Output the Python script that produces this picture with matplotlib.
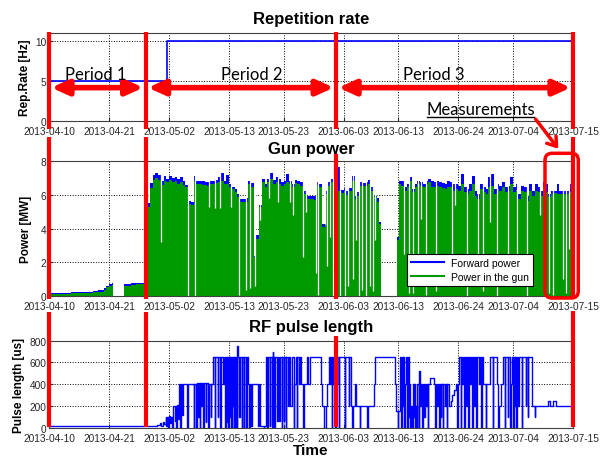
import numpy as np
import matplotlib
matplotlib.use('Agg')
import matplotlib.pyplot as plt
import matplotlib.dates as mdates
from matplotlib.lines import Line2D
from matplotlib.patches import FancyBboxPatch, FancyArrowPatch
from matplotlib.transforms import blended_transform_factory

plt.rcParams['font.family'] = ['Liberation Sans', 'DejaVu Sans']

# all times are day offsets from start_date
start_date = '2013-04-10'
end_day = 96
tick_dates = ['2013-04-10', '2013-04-21', '2013-05-02', '2013-05-13', '2013-05-23',
              '2013-06-03', '2013-06-13', '2013-06-24', '2013-07-04', '2013-07-15']

# Repetition rate
rate_days = [0, 21.7, 96]
rate_hz = [5, 10, 10]

# Gun power (step values)
pw_days = [0, 2, 4, 6, 8, 9, 10, 10.5, 11, 11.5,
           11.8, 13.8, 15, 16, 17, 17.5, 17.75,
           18, 18.5, 19, 19.5, 20, 20.5, 21, 21.5, 22, 22.5,
           23, 23.5, 24, 24.5, 25, 25.5, 26, 26.5, 27, 27.5,
           28, 28.5, 29, 29.5, 30, 30.5, 31, 31.5, 32, 32.5,
           33, 33.5, 34, 34.5, 35, 35.5, 36, 36.5, 37, 37.5,
           38, 38.5, 39, 39.5, 40, 40.5, 41, 41.5, 42, 42.5,
           43, 43.5, 44, 44.5, 45, 45.5, 46, 46.5, 47, 47.5,
           48, 48.5, 49, 49.5, 50, 50.5, 51, 51.5, 52, 52.5,
           53, 53.5, 54, 54.5, 55, 55.5, 56, 56.5, 57, 57.5,
           58, 58.5, 59, 59.5, 60, 60.5,
           60.9, 63.7, 64.2, 64.5, 65, 65.5, 66, 66.5, 67, 67.5,
           68, 68.5, 69, 69.5, 70, 70.5, 71, 71.5, 72, 72.5,
           73, 73.5, 74, 74.5, 75, 75.5, 76, 76.5, 77, 77.5,
           78, 78.5, 79, 79.5, 80, 80.5, 81, 81.5, 82, 82.5,
           83, 83.5, 84, 84.5, 85, 85.5, 86, 86.5, 87, 87.5,
           88, 88.5, 89, 89.5, 90, 90.5, 91, 91.5, 92, 92.5,
           93, 93.5, 94, 94.5, 95, 95.5, 96]
fwd_mw = [0.20, 0.20, 0.23, 0.27, 0.30, 0.35, 0.47, 0.63, 0.72, 0.77,
          0, 0.72, 0.76, 0.80, 0.81, 0.82, 4.5,
          5.5, 6.7, 7.2, 7.3, 7.2, 6.8, 7.1, 6.95, 7.1, 7.0,
          7.07, 6.93, 7.03, 6.84, 6.6, 5.66, 5.57, 7.13, 6.84, 6.8,
          6.8, 6.74, 6.74, 6.84, 6.84, 6.88, 7.03, 7.29, 6.84, 7.2,
          6.64, 6.45, 6.35, 6.05, 5.76, 5.76, 5.8, 6.84, 6.7, 2.4,
          3.6, 5.4, 6.93, 6.64, 6.93, 7.29, 6.88, 7.03, 6.93, 6.74,
          6.84, 7.23, 6.84, 6.64, 6.88, 6.84, 6.74, 6.25, 5.96, 5.96,
          5.96, 5.96, 6.74, 6.64, 4.3, 6.25, 6.74, 6.93, 6.64, 4.79,
          7.65, 6.3, 6.4, 6.2, 6.4, 7.13, 5.96, 6.15, 6.74, 6.68,
          6.74, 6.88, 6.45, 5.96, 5.8, 4.4,
          0, 3.5, 6.84, 6.84, 6.45, 6.64, 7.03, 6.35, 6.64, 6.84,
          6.74, 6.64, 6.84, 6.93, 6.8, 6.74, 6.84, 6.74, 6.68, 6.64,
          6.8, 6.74, 6.64, 6.64, 6.54, 7.23, 6.45, 6.35, 6.64, 7.13,
          6.25, 6.05, 6.64, 6.45, 6.35, 7.03, 7.23, 6.35, 6.64, 6.54,
          6.74, 6.45, 6.54, 7.03, 6.45, 6.64, 6.05, 6.54, 6.45, 5.96,
          6.64, 6.25, 6.64, 6.45, 6.25, 6.74, 6.64, 6.05, 6.25, 6.25,
          6.64, 6.25, 6.25, 6.25, 6.25, 6.64, 6.64]
gun_mw = [0.14, 0.14, 0.17, 0.21, 0.24, 0.27, 0.37, 0.53, 0.60, 0.68,
          0, 0.63, 0.67, 0.72, 0.74, 0.76, 4.3,
          5.3, 6.4, 6.9, 7.0, 6.9, 6.6, 6.84, 6.74, 6.88, 6.74,
          6.84, 6.64, 6.74, 6.6, 6.45, 5.47, 5.37, 6.84, 6.64, 6.64,
          6.6, 6.6, 6.54, 6.64, 6.64, 6.68, 6.74, 6.84, 6.64, 6.64,
          6.45, 6.35, 6.15, 5.86, 5.57, 5.57, 5.6, 6.64, 6.45, 2.3,
          3.4, 5.27, 6.74, 6.45, 6.74, 6.93, 6.64, 6.74, 6.64, 6.54,
          6.64, 6.74, 6.64, 6.45, 6.68, 6.64, 6.54, 6.05, 5.76, 5.76,
          5.76, 5.7, 6.6, 6.45, 4.1, 6.05, 6.54, 6.74, 6.45, 4.59,
          6.25, 6.1, 6.2, 6.0, 6.2, 6.84, 5.76, 5.96, 6.54, 6.54,
          6.54, 6.64, 6.25, 5.86, 5.6, 4.3,
          0, 3.3, 6.64, 6.54, 6.25, 6.45, 6.84, 6.15, 6.45, 6.64,
          6.54, 6.45, 6.64, 6.74, 6.45, 6.45, 6.54, 6.45, 6.41, 6.35,
          6.48, 6.45, 6.25, 6.35, 6.25, 6.64, 6.15, 6.05, 6.25, 6.64,
          5.96, 5.76, 6.35, 6.15, 6.05, 6.45, 6.54, 6.05, 6.35, 6.25,
          6.45, 6.15, 6.25, 6.64, 6.15, 6.29, 5.76, 6.25, 6.15, 5.66,
          6.25, 5.96, 6.25, 6.15, 5.96, 6.54, 6.15, 5.86, 6.05, 6.09,
          6.05, 6.05, 6.02, 6.02, 6.05, 6.15, 6.15]

# short drops of the gun power (white lines)
dip_days = [20.5, 25.5, 26.7, 29.4, 30.4, 31.3, 33.3, 34.8, 36.1, 36.8,
            37.7, 38.7, 40.3, 41.9, 44.1, 44.7, 46.6, 47.0, 49.0, 49.3,
            50.5, 51.0, 51.5, 52.1, 53.3, 54.2, 54.7, 55.7, 56.2, 56.8,
            57.4, 58.1, 58.8, 59.4, 59.8, 65.0, 65.9, 66.7, 67.6, 68.2,
            69.1, 70.9, 73.8, 74.3, 76.5, 78.6, 79.5, 80.8, 82.0, 84.0,
            85.7, 87.5, 90.0, 91.6, 92.4, 94.2, 94.8, 95.3]
dip_mw = [3.2, 0.0, 0.0, 5.3, 5.2, 5.2, 5.3, 0.1, 0.4, 0.5,
          0.6, 4.5, 5.8, 5.6, 5.6, 4.8, 2.3, 5.0, 1.4, 0.1,
          4.3, 1.8, 3.5, 0.0, 0.0, 0.0, 0.6, 1.0, 3.3, 0.0,
          0.4, 0.0, 0.6, 0.3, 3.3, 2.5, 0.2, 0.2, 0.6, 4.6,
          0.1, 0.3, 1.1, 5.4, 0.0, 1.7, 0.3, 4.4, 0.0, 0.9,
          0.9, 0.0, 4.8, 0.2, 0.1, 1.0, 0.2, 2.8]

# RF pulse length (step values)
rf_days = [0, 19.8, 20.3, 20.6, 20.9, 21.1, 21.4, 21.5, 21.7, 21.8,
           22.0, 22.2, 22.4, 22.6, 22.8, 23.0, 23.2, 23.35, 23.5, 23.7,
           23.9, 24.0, 24.2, 24.4, 24.5, 25.3, 25.4, 26.5, 26.6, 27.0,
           27.1, 27.3, 27.4, 27.6, 27.7, 27.9, 28.0, 28.3, 28.4, 28.7,
           28.8, 29.2, 29.3, 29.6, 29.7, 30.0, 30.4, 30.5, 30.9, 31.0,
           31.4, 31.5, 31.9, 32.0, 32.3, 32.4, 32.6, 32.7, 32.85, 32.95,
           33.1, 33.2, 33.35, 33.45, 33.6, 33.7, 33.85, 33.95, 34.1, 34.2,
           34.4, 34.5, 34.6, 34.9, 35.0, 35.3, 35.4, 35.7, 35.8, 36.1,
           36.2, 36.5, 36.7, 36.8, 37.0, 37.2, 38.2, 38.5, 38.7, 39.3,
           39.4, 39.7, 40.0, 40.1, 40.4, 40.5, 40.9, 41.0, 41.1, 41.3,
           41.4, 41.7, 42.0, 42.2, 42.4, 42.6, 42.7, 43.0, 43.1, 43.4,
           43.5, 43.8, 44.0, 44.1, 44.6, 44.8, 44.9, 45.2, 45.4, 45.5,
           45.8, 46.0, 46.2, 46.6, 46.7, 47.2, 47.4, 47.8, 49.9, 50.1,
           50.3, 50.8, 51.0, 51.3, 51.5, 51.6, 51.8, 51.9, 52.1, 52.2,
           52.4, 52.5, 52.7, 52.8, 53.1, 53.2, 54.2, 54.3, 54.9, 55.0,
           55.4, 55.6, 55.7, 56.0, 56.2, 56.9, 57.0, 58.3, 58.4, 59.5,
           59.8, 63.3, 63.6, 63.9, 64.0, 64.3, 64.5, 64.6, 64.8, 64.9,
           65.1, 65.2, 65.4, 65.6, 65.7, 65.9, 66.0, 66.2, 66.3, 66.5,
           66.6, 66.8, 66.9, 67.1, 67.2, 67.4, 67.5, 67.7, 67.8, 68.0,
           68.2, 68.4, 68.5, 68.7, 68.8, 69.0, 69.2, 69.4, 69.5, 69.8,
           70.6, 70.8, 70.9, 71.1, 71.3, 71.5, 71.6, 71.8, 71.9, 72.1,
           72.2, 72.5, 72.7, 72.9, 73.0, 73.3, 73.6, 73.9, 74.2, 74.5,
           74.8, 74.9, 75.2, 75.4, 75.5, 75.7, 75.8, 76.1, 76.2, 76.4,
           76.5, 76.8, 76.9, 77.1, 77.3, 77.5, 77.6, 77.9, 78.0, 78.3,
           78.4, 78.7, 78.9, 79.2, 79.3, 79.5, 80.0, 80.1, 80.8, 81.3,
           81.4, 82.0, 82.3, 82.4, 82.8, 83.2, 83.5, 83.6, 84.0, 84.1,
           84.5, 84.6, 84.8, 85.0, 85.1, 85.3, 85.4, 85.6, 85.7, 85.8,
           86.0, 86.1, 86.6, 86.7, 87.3, 87.4, 87.7, 87.8, 88.4, 89.0,
           89.1, 91.5, 91.8, 92.4, 92.9, 96.0]
rf_us = [20, 25, 40, 20, 50, 30, 100, 20, 100, 0,
         110, 40, 100, 0, 200, 60, 200, 0, 210, 80,
         400, 0, 400, 120, 400, 0, 400, 0, 400, 0,
         410, 100, 410, 0, 410, 200, 410, 0, 410, 50,
         410, 0, 400, 100, 400, 650, 0, 650, 100, 650,
         0, 650, 400, 650, 0, 650, 50, 650, 0, 650,
         100, 650, 0, 650, 200, 650, 0, 650, 0, 650,
         0, 750, 650, 100, 650, 0, 650, 0, 650, 0,
         650, 400, 0, 400, 20, 400, 20, 400, 20, 0,
         20, 650, 0, 650, 20, 650, 0, 700, 650, 0,
         650, 60, 650, 60, 650, 0, 650, 60, 650, 0,
         650, 200, 650, 200, 650, 0, 400, 650, 0, 650,
         400, 650, 400, 0, 400, 650, 400, 650, 400, 200,
         0, 200, 400, 650, 400, 650, 0, 650, 400, 650,
         0, 650, 400, 650, 0, 650, 0, 650, 200, 650,
         200, 0, 200, 400, 200, 0, 200, 0, 200, 400,
         650, 400, 150, 0, 150, 650, 0, 650, 200, 650,
         0, 400, 650, 0, 650, 100, 400, 0, 200, 0,
         400, 100, 400, 0, 200, 0, 400, 0, 520, 200,
         400, 0, 400, 100, 400, 200, 400, 0, 400, 460,
         400, 0, 400, 200, 400, 0, 400, 100, 400, 0,
         400, 200, 400, 0, 400, 200, 250, 300, 350, 400,
         0, 400, 650, 0, 650, 400, 650, 0, 650, 200,
         650, 0, 650, 400, 650, 0, 650, 200, 650, 0,
         650, 400, 650, 0, 650, 400, 0, 400, 650, 0,
         650, 400, 0, 200, 400, 650, 0, 650, 100, 650,
         0, 400, 650, 0, 650, 200, 650, 0, 400, 650,
         200, 650, 0, 650, 200, 650, 100, 650, 200, 100,
         200, 250, 200, 250, 200, 200]

period_names = ['Period 1', 'Period 2', 'Period 3']
period_edges = [0, 17.7, 52.6, 96]
period_text_days = [8.6, 37.2, 70.5]

BLUE = '#0000ff'
GREEN = '#009900'
RED = '#ff0000'

t0 = mdates.datestr2num(start_date)
tick_x = [mdates.datestr2num(d) for d in tick_dates]


def to_x(days):
    return t0 + np.asarray(days, dtype=float)


def style_axis(ax, ymax, yticks):
    ax.set_xlim(t0, t0 + end_day)
    ax.set_ylim(0, ymax)
    ax.set_yticks(yticks)
    ax.set_xticks(tick_x)
    ax.xaxis.set_major_formatter(mdates.DateFormatter('%Y-%m-%d'))
    ax.grid(True, color='black', linestyle=':', linewidth=0.7)
    ax.set_axisbelow(True)
    ax.tick_params(direction='in', length=3, labelsize=7.3, colors='#262626')
    ax.tick_params(axis='x', pad=3.5)
    ax.tick_params(axis='y', pad=2)
    for s in ax.spines.values():
        s.set_color('#404040')
        s.set_linewidth(0.8)


fig = plt.figure(figsize=(6.01, 4.60), dpi=100)
W, H = 601.0, 460.0
left, width = 49 / W, 524 / W
ax1 = fig.add_axes([left, 1 - 122 / H, width, 88 / H])
ax2 = fig.add_axes([left, 1 - 297.3 / H, width, 135.3 / H])
ax3 = fig.add_axes([left, 1 - 428.7 / H, width, 87 / H])

# Repetition rate
ax1.step(to_x(rate_days), rate_hz, where='post', color=BLUE, lw=1.2)
style_axis(ax1, 11, [0, 5, 10])
ax1.set_title('Repetition rate', fontsize=12, fontweight='bold', pad=7)
ax1.set_ylabel('Rep.Rate [Hz]', fontsize=8.5, fontweight='bold', labelpad=3)

# Gun power
ax2.fill_between(to_x(pw_days), fwd_mw, step='post', color=BLUE, lw=0, zorder=1)
ax2.fill_between(to_x(pw_days), gun_mw, step='post', color=GREEN, lw=0, zorder=1.1)
ax2.vlines(to_x(dip_days), dip_mw, 8, colors='white', lw=0.9, zorder=1.2)
style_axis(ax2, 8, [0, 2, 4, 6, 8])
ax2.set_title('Gun power', fontsize=12, fontweight='bold', pad=6)
ax2.set_ylabel('Power [MW]', fontsize=8.5, fontweight='bold', labelpad=6)
handles = [Line2D([], [], color=BLUE, lw=1.5), Line2D([], [], color=GREEN, lw=1.5)]
leg = ax2.legend(handles, ['Forward power', 'Power in the gun'], loc='lower left',
                 bbox_to_anchor=(0.683, 0.076), fontsize=7.5, handlelength=3.2,
                 fancybox=False, framealpha=1, borderaxespad=0, borderpad=0.4,
                 labelspacing=0.4, handletextpad=0.6)
leg.get_frame().set_edgecolor('black')
leg.get_frame().set_linewidth(0.8)
leg.set_zorder(5)

# RF pulse length
ax3.step(to_x(rf_days), rf_us, where='post', color=BLUE, lw=1.0)
style_axis(ax3, 800, [0, 200, 400, 600, 800])
ax3.set_title('RF pulse length', fontsize=12, fontweight='bold', pad=7)
ax3.set_ylabel('Pulse length [us]', fontsize=8.5, fontweight='bold', labelpad=3)
ax3.set_xlabel('Time', fontsize=11, fontweight='bold', labelpad=0)

# red annotations: period boundaries (y in pixel rows from top)
segments = {0: [(33, 130), (138, 300), (313, 428)],
            1: [(33, 130), (138, 300), (313, 428)],
            2: [(33, 130), (155, 300), (337, 428)],
            3: [(33, 130), (138, 300), (312, 428)]}
trans = blended_transform_factory(ax1.transData, fig.transFigure)
for i, d in enumerate(period_edges):
    for y0, y1 in segments[i]:
        fig.add_artist(Line2D([t0 + d, t0 + d], [1 - y0 / H, 1 - y1 / H],
                              transform=trans, color=RED, lw=3, solid_capstyle='butt'))

arrow_y = 4.17
for i, name in enumerate(period_names):
    a, b = period_edges[i], period_edges[i + 1]
    ax1.annotate('', xy=(t0 + b - 0.4, arrow_y), xytext=(t0 + a + 0.4, arrow_y),
                 arrowprops=dict(arrowstyle='<|-|>,head_length=1.0,head_width=0.45',
                                 color=RED, lw=4, mutation_scale=10,
                                 shrinkA=0, shrinkB=0))
    ax1.text(t0 + period_text_days[i], 5.85, name, ha='center', va='center',
             fontsize=12, family=['Lato', 'DejaVu Sans'])

# Measurements label, arrow and box (figure pixels)
px = fig.dpi_scale_trans
fig.text(480.5 / 100, (H - 110) / 100, 'Measurements', transform=px, ha='center',
         va='center', fontsize=12, family=['Lato', 'DejaVu Sans'])
fig.add_artist(Line2D([4.27, 5.34], [(H - 118) / 100, (H - 118) / 100],
                      transform=px, color='black', lw=1))
fig.add_artist(FancyArrowPatch((5.34, (H - 118) / 100), (5.60, (H - 152) / 100),
                               transform=px, arrowstyle='->,head_length=0.5,head_width=0.35',
                               color=RED, lw=2.5, mutation_scale=12))
fig.add_artist(FancyBboxPatch((5.45, (H - 299) / 100), 0.333, 1.447,
                              boxstyle='round,pad=0,rounding_size=0.07', transform=px,
                              fill=False, edgecolor=RED, lw=2.5))

fig.savefig('out.png', dpi=100)
